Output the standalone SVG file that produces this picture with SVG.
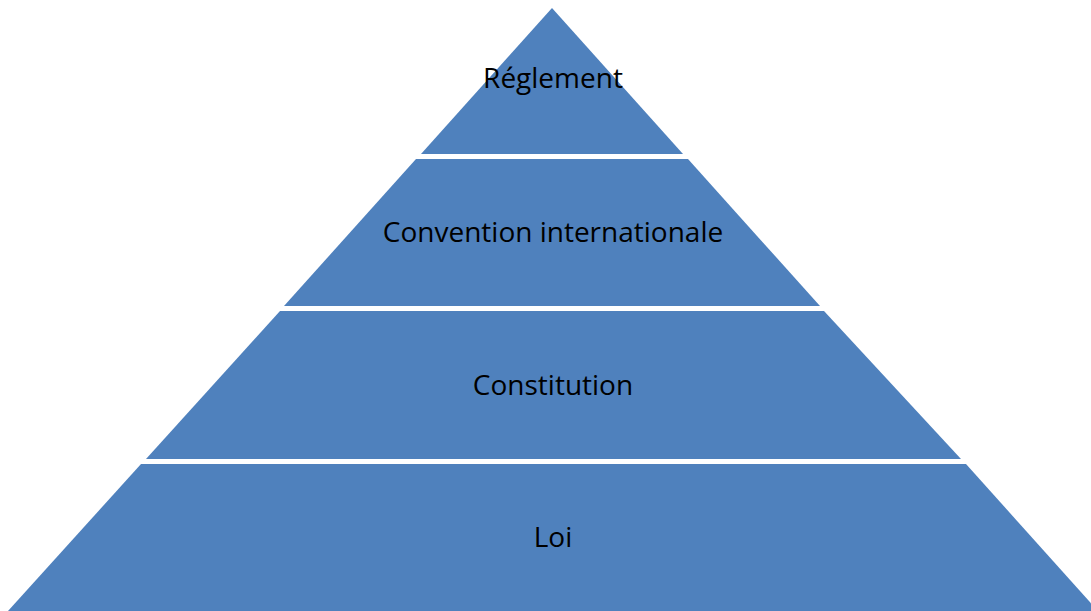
<svg xmlns="http://www.w3.org/2000/svg" width="1091" height="611" viewBox="0 0 1091 611">
<style>
.tier{fill:#4F81BD;}
.lbl{font-family:"Open Sans","Liberation Sans",sans-serif;font-size:28px;fill:#000;text-anchor:middle;}
</style>
<rect width="1091" height="611" fill="#fff"/>
<g id="tier-reglement">
<polygon class="tier" points="552,8 683,154 421,154"/>
<text class="lbl" x="553" y="88">Réglement</text>
</g>
<g id="tier-convention">
<polygon class="tier" points="416,159 688,159 820,306 284,306"/>
<text class="lbl" x="553" y="242">Convention internationale</text>
</g>
<g id="tier-constitution">
<polygon class="tier" points="280,311 824,311 961,459 146,459"/>
<text class="lbl" x="553" y="395">Constitution</text>
</g>
<g id="tier-loi">
<polygon class="tier" points="141,464 966,464 1098,611 8,611"/>
<text class="lbl" x="553" y="547">Loi</text>
</g>
<g id="connectors"></g>
</svg>
